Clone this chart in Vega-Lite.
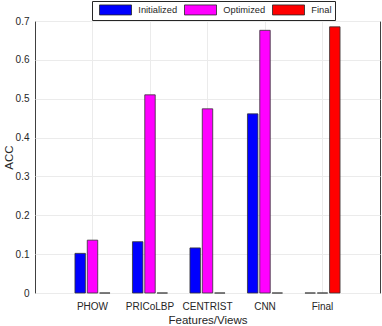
{
  "$schema": "https://vega.github.io/schema/vega-lite/v6.json",
  "autosize": "none",
  "width": 345,
  "height": 272,
  "padding": {"left": 35, "top": 21, "right": 2, "bottom": 33},
  "background": "white",
  "config": {
    "font": "Liberation Sans",
    "view": {"stroke": "#404040", "strokeWidth": 1},
    "axis": {"labelColor": "#262626", "titleColor": "#262626", "domainColor": "#262626", "tickColor": "#262626", "gridColor": "#ebebeb", "labelFont": "Liberation Sans", "titleFont": "Liberation Sans", "titleFontWeight": "normal"}
  },
  "data": {
    "values": [
      {"view": "PHOW", "method": "Initialized", "acc": 0.102},
      {"view": "PHOW", "method": "Optimized", "acc": 0.136},
      {"view": "PHOW", "method": "Final", "acc": 0},
      {"view": "PRICoLBP", "method": "Initialized", "acc": 0.132},
      {"view": "PRICoLBP", "method": "Optimized", "acc": 0.51},
      {"view": "PRICoLBP", "method": "Final", "acc": 0},
      {"view": "CENTRIST", "method": "Initialized", "acc": 0.116},
      {"view": "CENTRIST", "method": "Optimized", "acc": 0.474},
      {"view": "CENTRIST", "method": "Final", "acc": 0},
      {"view": "CNN", "method": "Initialized", "acc": 0.461},
      {"view": "CNN", "method": "Optimized", "acc": 0.676},
      {"view": "CNN", "method": "Final", "acc": 0},
      {"view": "Final", "method": "Initialized", "acc": 0},
      {"view": "Final", "method": "Optimized", "acc": 0},
      {"view": "Final", "method": "Final", "acc": 0.685}
    ]
  },
  "mark": {"type": "bar", "stroke": "#333333", "strokeWidth": 0.8},
  "encoding": {
    "x": {
      "field": "view", "type": "nominal",
      "sort": ["PHOW", "PRICoLBP", "CENTRIST", "CNN", "Final"],
      "scale": {"paddingInner": 0, "paddingOuter": 0.5},
      "axis": {"title": "Features/Views", "labelAngle": 0, "labelFontSize": 10, "titleFontSize": 11.5, "grid": true, "bandPosition": 0.5, "ticks": false, "domain": false, "labelPadding": 8, "titlePadding": 3}
    },
    "xOffset": {
      "field": "method", "type": "nominal",
      "sort": ["Initialized", "Optimized", "Final"],
      "scale": {"paddingInner": 0.15, "paddingOuter": 0.91}
    },
    "y": {
      "field": "acc", "type": "quantitative",
      "scale": {"domain": [0, 0.7], "nice": false},
      "axis": {"title": "ACC", "values": [0, 0.1, 0.2, 0.3, 0.4, 0.5, 0.6, 0.7], "format": ".1~f", "labelFontSize": 10, "titleFontSize": 11.5, "ticks": false, "domain": false, "labelPadding": 6, "titlePadding": 1}
    },
    "color": {
      "field": "method", "type": "nominal",
      "sort": ["Initialized", "Optimized", "Final"],
      "scale": {"domain": ["Initialized", "Optimized", "Final"], "range": ["#0000ff", "#ff00ff", "#ff0000"]},
      "legend": {
        "title": null, "orient": "none", "legendX": 57, "legendY": -20,
        "direction": "horizontal", "columns": 3,
        "symbolType": "M-0.2,-1h6.4v2h-6.4z", "symbolSize": 100,
        "symbolStrokeColor": "#262626", "symbolStrokeWidth": 0.8, "symbolOpacity": 1,
        "labelOffset": 32.3, "labelFontSize": 9.3, "labelColor": "#262626",
        "columnPadding": 2, "padding": 3,
        "strokeColor": "#262626", "fillColor": "white"
      }
    }
  }
}
